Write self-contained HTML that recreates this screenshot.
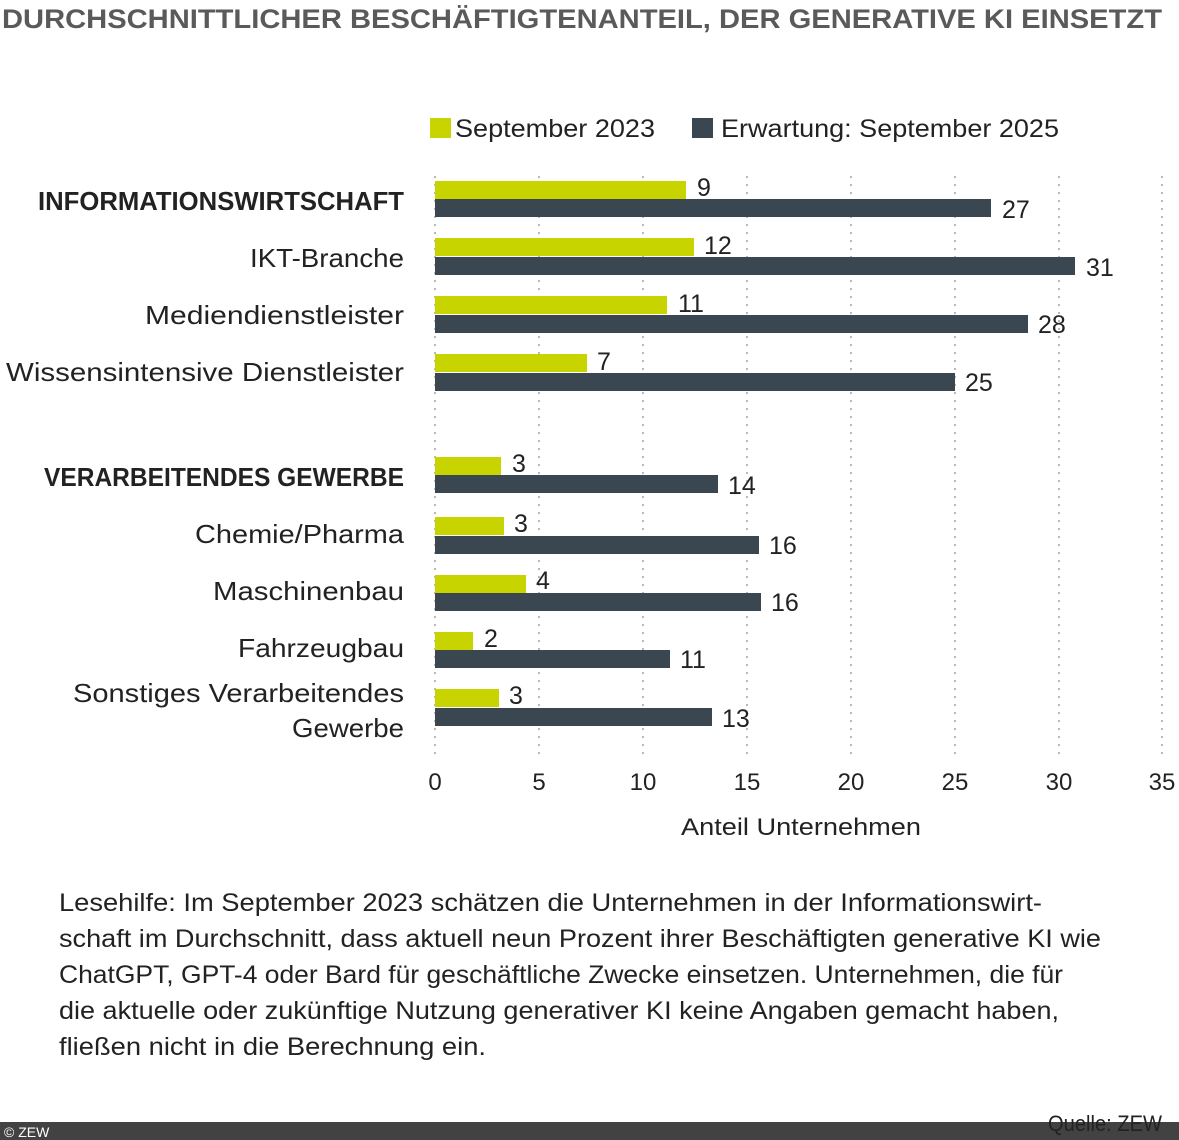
<!DOCTYPE html>
<html><head><meta charset="utf-8"><style>
html,body{margin:0;padding:0;background:#fff}
svg{display:block}
text{font-family:"Liberation Sans",sans-serif}
</style></head><body>
<svg width="1179" height="1140" viewBox="0 0 1179 1140" xmlns="http://www.w3.org/2000/svg">
<text x="2" y="28" font-size="27" font-weight="bold" fill="#5a5a5a" textLength="1160" lengthAdjust="spacingAndGlyphs">DURCHSCHNITTLICHER BESCHÄFTIGTENANTEIL, DER GENERATIVE KI EINSETZT</text>
<rect x="430" y="118" width="21" height="20" fill="#c8d400"/>
<text x="455" y="137" font-size="25" fill="#222" textLength="200" lengthAdjust="spacingAndGlyphs">September 2023</text>
<rect x="692" y="118" width="21" height="20" fill="#3a4750"/>
<text x="721" y="137" font-size="25" fill="#222" textLength="338" lengthAdjust="spacingAndGlyphs">Erwartung: September 2025</text>
<g stroke="#b8b8b8" stroke-width="2" stroke-dasharray="2,6">
<line x1="435" y1="176" x2="435" y2="760"/><line x1="539" y1="176" x2="539" y2="760"/><line x1="643" y1="176" x2="643" y2="760"/><line x1="747" y1="176" x2="747" y2="760"/><line x1="851" y1="176" x2="851" y2="760"/><line x1="955" y1="176" x2="955" y2="760"/><line x1="1059" y1="176" x2="1059" y2="760"/><line x1="1162" y1="176" x2="1162" y2="760"/>
</g>
<g font-size="25" fill="#222">
<rect x="435" y="181" width="251" height="18" fill="#c8d400"/><rect x="435" y="199" width="556" height="18" fill="#3a4750"/>
<text x="697" y="196">9</text><text x="1002" y="218">27</text>
<rect x="435" y="238" width="259" height="18" fill="#c8d400"/><rect x="435" y="257" width="640" height="18" fill="#3a4750"/>
<text x="704" y="254">12</text><text x="1086" y="276">31</text>
<rect x="435" y="296" width="232" height="18" fill="#c8d400"/><rect x="435" y="315" width="593" height="18" fill="#3a4750"/>
<text x="678" y="312">11</text><text x="1038" y="333">28</text>
<rect x="435" y="354" width="152" height="18" fill="#c8d400"/><rect x="435" y="373" width="520" height="18" fill="#3a4750"/>
<text x="597" y="370">7</text><text x="965" y="391">25</text>
<rect x="435" y="457" width="66" height="18" fill="#c8d400"/><rect x="435" y="475" width="283" height="18" fill="#3a4750"/>
<text x="512" y="472">3</text><text x="728" y="494">14</text>
<rect x="435" y="517" width="69" height="18" fill="#c8d400"/><rect x="435" y="536" width="324" height="18" fill="#3a4750"/>
<text x="514" y="532">3</text><text x="769" y="554">16</text>
<rect x="435" y="575" width="91" height="18" fill="#c8d400"/><rect x="435" y="593" width="326" height="18" fill="#3a4750"/>
<text x="536" y="589">4</text><text x="771" y="611">16</text>
<rect x="435" y="632" width="38" height="18" fill="#c8d400"/><rect x="435" y="650" width="235" height="18" fill="#3a4750"/>
<text x="484" y="647">2</text><text x="680" y="668">11</text>
<rect x="435" y="689" width="64" height="18" fill="#c8d400"/><rect x="435" y="708" width="277" height="18" fill="#3a4750"/>
<text x="509" y="704">3</text><text x="722" y="727">13</text>
</g>
<g font-size="26" fill="#222" text-anchor="end">
<text x="404" y="210" font-weight="bold" textLength="366" lengthAdjust="spacingAndGlyphs">INFORMATIONSWIRTSCHAFT</text>
<text x="404" y="267" textLength="154" lengthAdjust="spacingAndGlyphs">IKT-Branche</text>
<text x="404" y="324" textLength="259" lengthAdjust="spacingAndGlyphs">Mediendienstleister</text>
<text x="404" y="381" textLength="398" lengthAdjust="spacingAndGlyphs">Wissensintensive Dienstleister</text>
<text x="404" y="486" font-weight="bold" textLength="360" lengthAdjust="spacingAndGlyphs">VERARBEITENDES GEWERBE</text>
<text x="404" y="543" textLength="209" lengthAdjust="spacingAndGlyphs">Chemie/Pharma</text>
<text x="404" y="600" textLength="191" lengthAdjust="spacingAndGlyphs">Maschinenbau</text>
<text x="404" y="657" textLength="166" lengthAdjust="spacingAndGlyphs">Fahrzeugbau</text>
<text x="404" y="702" textLength="331" lengthAdjust="spacingAndGlyphs">Sonstiges Verarbeitendes</text>
<text x="404" y="737" textLength="112" lengthAdjust="spacingAndGlyphs">Gewerbe</text>
</g>
<g font-size="24" fill="#222" text-anchor="middle">
<text x="435" y="790">0</text><text x="539" y="790">5</text><text x="643" y="790">10</text><text x="747" y="790">15</text><text x="851" y="790">20</text><text x="955" y="790">25</text><text x="1059" y="790">30</text><text x="1162" y="790">35</text>
<text x="801" y="835" textLength="240" lengthAdjust="spacingAndGlyphs">Anteil Unternehmen</text>
</g>
<g font-size="25" fill="#222">
<text x="59" y="911" textLength="983" lengthAdjust="spacingAndGlyphs">Lesehilfe: Im September 2023 schätzen die Unternehmen in der Informationswirt-</text>
<text x="59" y="947" textLength="1042" lengthAdjust="spacingAndGlyphs">schaft im Durchschnitt, dass aktuell neun Prozent ihrer Beschäftigten generative KI wie</text>
<text x="59" y="983" textLength="1004" lengthAdjust="spacingAndGlyphs">ChatGPT, GPT-4 oder Bard für geschäftliche Zwecke einsetzen. Unternehmen, die für</text>
<text x="59" y="1019" textLength="1000" lengthAdjust="spacingAndGlyphs">die aktuelle oder zukünftige Nutzung generativer KI keine Angaben gemacht haben,</text>
<text x="59" y="1055" textLength="427" lengthAdjust="spacingAndGlyphs">fließen nicht in die Berechnung ein.</text>
</g>
<rect x="0" y="1122" width="1179" height="18" fill="#424242"/>
<text x="4" y="1137" font-size="14" fill="#fff">© ZEW</text>
<text x="1162" y="1131" font-size="22" fill="#222" text-anchor="end" textLength="114" lengthAdjust="spacingAndGlyphs">Quelle: ZEW</text>
</svg>
</body></html>
